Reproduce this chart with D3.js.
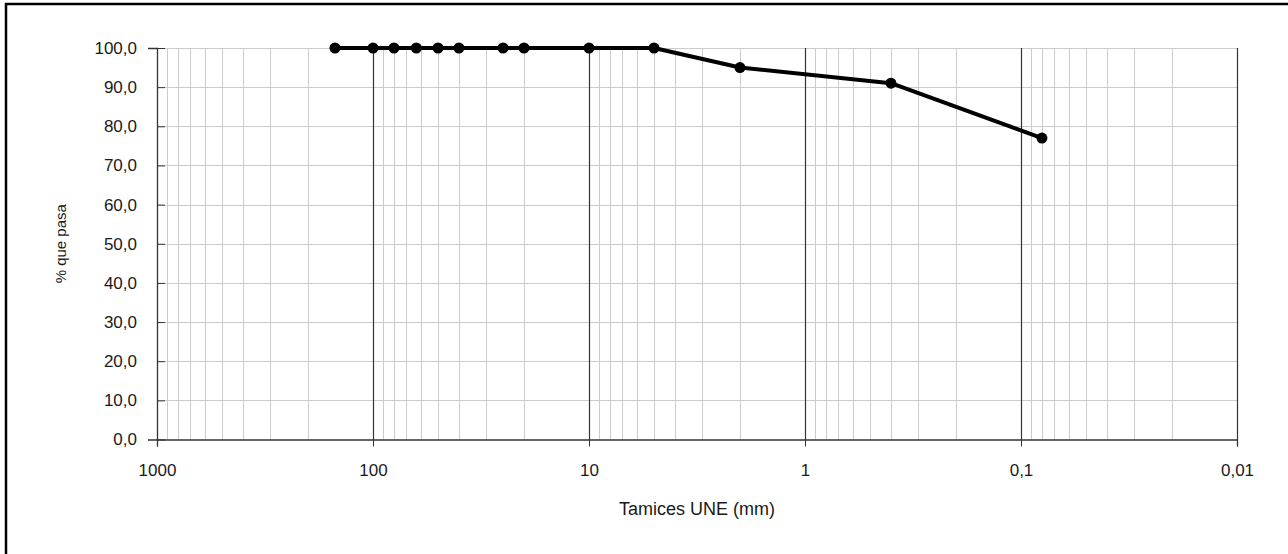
<!DOCTYPE html>
<html>
<head>
<meta charset="utf-8">
<script src="https://cdn.jsdelivr.net/npm/d3@7"></script>
<style>
  body { margin: 0; background: #fff; }
  svg { display: block; }
  svg text { font-family: "Liberation Sans", Arial, sans-serif; }
</style>
</head>
<body>
<div id="grafico"></div>
<script>
// datos de la granulometria
const tamices = [150, 100, 80, 63, 50, 40, 25, 20, 10, 5, 2, 0.4, 0.08]
const pasa = [100, 100, 100, 100, 100, 100, 100, 100, 100, 100, 95, 91, 77]

const xTicks = [1000, 100, 10, 1, 0.1, 0.01]
const xTickLabels = ["1000", "100", "10", "1", "0,1", "0,01"]
const yTicks = [0, 10, 20, 30, 40, 50, 60, 70, 80, 90, 100]

const W = 1288, H = 554
let margin = { top: 48, right: 50, bottom: 114, left: 157 },
    width = 1237 - margin.left,
    height = 439.5 - margin.top

const es = d3.formatLocale({ decimal: ",", thousands: ".", grouping: [3], currency: ["", "€"] })
const fmtY = es.format(".1f")

const svg = d3.select("#grafico").append("svg")
    .attr("width", W)
    .attr("height", H)

// marco exterior (se corta por la derecha y abajo)
svg.append("rect")
    .attr("x", 6).attr("y", 4)
    .attr("width", W + 20).attr("height", H + 20)
    .attr("fill", "none")
    .attr("stroke", "#000")
    .attr("stroke-width", 2.5)

const g = svg.append("g")
    .attr("transform", "translate(" + margin.left + "," + margin.top + ")")

const x = d3.scaleLog().domain([1000, 0.01]).range([0, width])
const y = d3.scaleLinear().domain([0, 100]).range([height, 0])

// lineas menores de la rejilla
let menores = []
for (let e = -2; e < 3; e++) {
    for (let k = 2; k <= 9; k++) menores.push(k * Math.pow(10, e))
}
g.selectAll(".menor")
    .data(menores)
    .enter().append("line")
    .attr("x1", d => Math.round(x(d)) + 0.5).attr("x2", d => Math.round(x(d)) + 0.5)
    .attr("y1", 0).attr("y2", height)
    .attr("stroke", "#cccccc").attr("stroke-width", 1)

g.selectAll(".horiz")
    .data(yTicks.filter(d => d > 0))
    .enter().append("line")
    .attr("x1", 0).attr("x2", width)
    .attr("y1", d => Math.round(y(d)) + 0.5).attr("y2", d => Math.round(y(d)) + 0.5)
    .attr("stroke", "#cccccc").attr("stroke-width", 1)

// decadas
g.selectAll(".decada")
    .data(xTicks.slice(1))
    .enter().append("line")
    .attr("x1", d => Math.round(x(d)) + 0.5).attr("x2", d => Math.round(x(d)) + 0.5)
    .attr("y1", 0).attr("y2", height)
    .attr("stroke", "#333").attr("stroke-width", 1.2)

// eje x
const ejeX = g.append("g")
    .attr("transform", "translate(0," + height + ")")
    .call(d3.axisBottom(x).tickValues(xTicks).tickFormat((d, i) => xTickLabels[i]).tickSize(7).tickPadding(17))
ejeX.attr("font-family", null)
ejeX.select(".domain").attr("stroke", "#333").attr("stroke-width", 1.3)
ejeX.selectAll(".tick line").attr("stroke", "#333").attr("y1", -8)
ejeX.selectAll("text").attr("font-size", 17).attr("fill", "#1a1a1a")

// eje y
const ejeY = g.append("g")
    .call(d3.axisLeft(y).tickValues(yTicks).tickFormat(fmtY).tickSize(9).tickPadding(11))
ejeY.attr("font-family", null)
ejeY.select(".domain").attr("stroke", "#333").attr("stroke-width", 1.3)
ejeY.selectAll(".tick line").attr("stroke", "#333").attr("x2", 8)
ejeY.selectAll("text").attr("font-size", 17).attr("fill", "#1a1a1a")

// titulos
svg.append("text")
    .attr("x", margin.left + width / 2).attr("y", 515)
    .attr("text-anchor", "middle")
    .attr("font-size", 18)
    .attr("fill", "#1a1a1a")
    .text("Tamices UNE (mm)")

svg.append("text")
    .attr("transform", "translate(66," + (margin.top + height / 2) + ") rotate(-90)")
    .attr("text-anchor", "middle")
    .attr("font-size", 15)
    .attr("fill", "#1a1a1a")
    .text("% que pasa")

// curva
const puntos = tamices.map((t, i) => ({ t: t, p: pasa[i] }))

g.append("path")
    .datum(puntos)
    .attr("fill", "none")
    .attr("stroke", "#000")
    .attr("stroke-width", 4)
    .attr("stroke-linejoin", "round")
    .attr("d", d3.line().x(d => x(d.t)).y(d => y(d.p)))

g.selectAll(".punto")
    .data(puntos)
    .enter().append("circle")
    .attr("cx", d => x(d.t))
    .attr("cy", d => y(d.p))
    .attr("r", 5.5)
    .attr("fill", "#000")
</script>
</body>
</html>
